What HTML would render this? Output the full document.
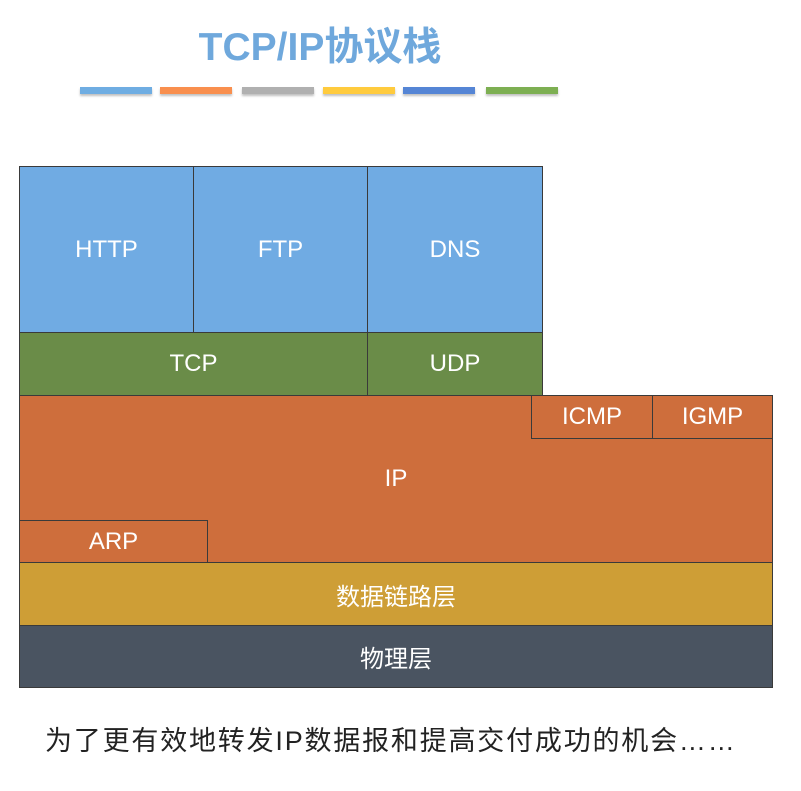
<!DOCTYPE html>
<html><head><meta charset="utf-8"><style>
body{margin:0;width:801px;height:791px;background:#fff;position:relative;overflow:hidden;font-family:"Liberation Sans","Noto Sans CJK SC",sans-serif}
.b{position:absolute;box-sizing:border-box;border:1px solid #3a3a3a;color:#fff;display:flex;align-items:center;justify-content:center;font-size:24px}
.bar{position:absolute;top:87px;height:7px;box-shadow:0 2px 2px rgba(0,0,0,.25)}
</style></head><body>
<div style="position:absolute;left:0;width:640px;top:16px;text-align:center;font-size:39px;font-weight:bold;color:#6FA8DC">TCP/IP协议栈</div>
<div class="bar" style="left:80px;width:72px;background:#6FADE2"></div>
<div class="bar" style="left:160px;width:72px;background:#F98F4E"></div>
<div class="bar" style="left:242px;width:72px;background:#B0B0B0"></div>
<div class="bar" style="left:323px;width:72px;background:#FFCB3E"></div>
<div class="bar" style="left:403px;width:72px;background:#5585D5"></div>
<div class="bar" style="left:486px;width:72px;background:#7DAF52"></div>

<div class="b" style="left:19px;top:166px;width:175px;height:167px;background:#70ABE3">HTTP</div>
<div class="b" style="left:193px;top:166px;width:175px;height:167px;background:#70ABE3">FTP</div>
<div class="b" style="left:367px;top:166px;width:176px;height:167px;background:#70ABE3">DNS</div>
<div class="b" style="left:19px;top:332px;width:349px;height:64px;background:#6A8C48">TCP</div>
<div class="b" style="left:367px;top:332px;width:176px;height:64px;background:#6A8C48">UDP</div>
<div class="b" style="left:19px;top:395px;width:754px;height:168px;background:#CE6E3C">IP</div>
<div class="b" style="left:531px;top:395px;width:122px;height:44px;background:#CE6E3C">ICMP</div>
<div class="b" style="left:652px;top:395px;width:121px;height:44px;background:#CE6E3C">IGMP</div>
<div class="b" style="left:19px;top:520px;width:189px;height:43px;background:#CE6E3C">ARP</div>
<div class="b" style="left:19px;top:562px;width:754px;height:64px;background:#CE9E36">数据链路层</div>
<div class="b" style="left:19px;top:625px;width:754px;height:63px;background:#4A5461">物理层</div>
<div style="position:absolute;left:45px;top:719px;font-size:27px;color:#222;white-space:nowrap;letter-spacing:1.8px">为了更有效地转发IP数据报和提高交付成功的机会……</div>
</body></html>
